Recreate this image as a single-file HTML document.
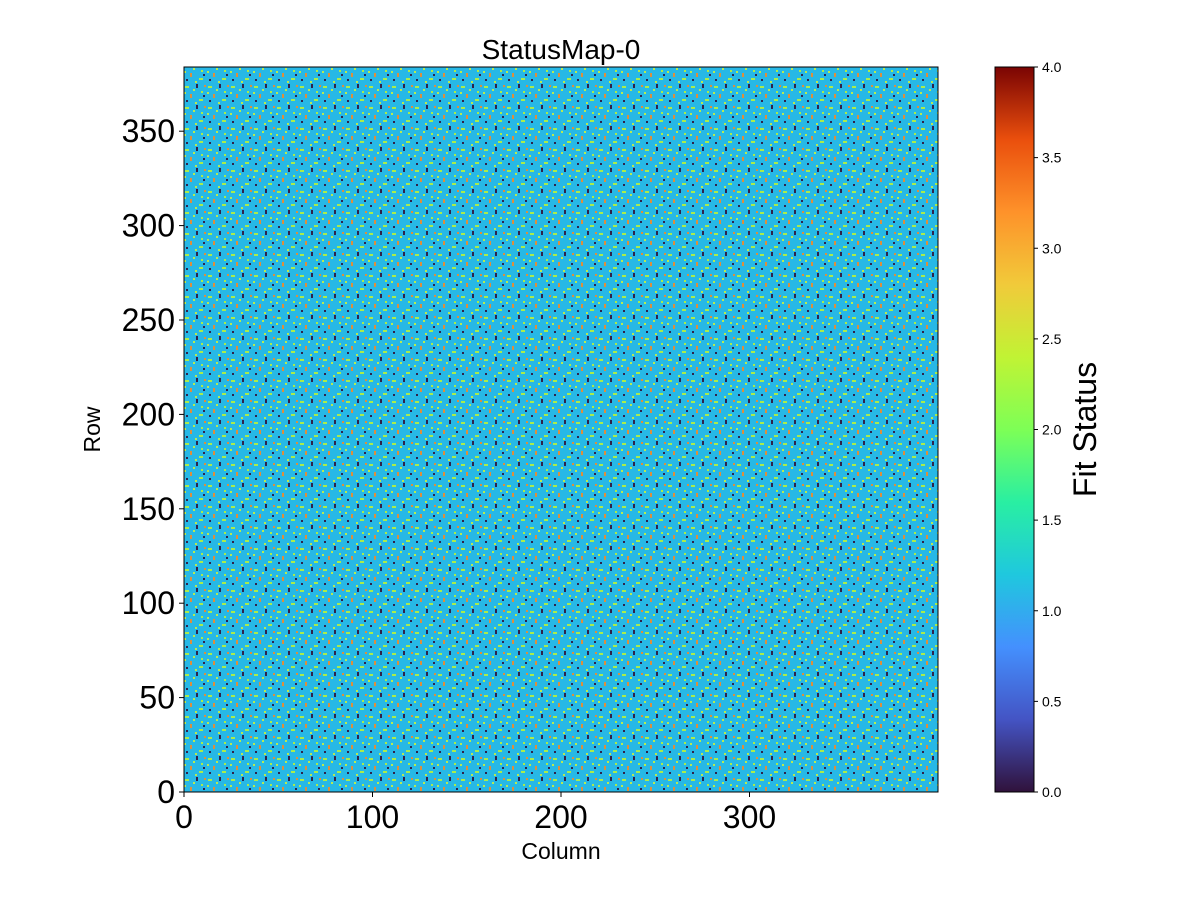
<!DOCTYPE html>
<html><head><meta charset="utf-8">
<style>
html,body{margin:0;padding:0;background:#fff;}
svg text{font-family:"Liberation Sans","DejaVu Sans",sans-serif;fill:#000;}
</style></head>
<body>
<svg id="chart" width="1200" height="900" xmlns="http://www.w3.org/2000/svg">
<defs>
<linearGradient id="turbo" x1="0" y1="1" x2="0" y2="0">
<stop offset="0" stop-color="#30123b"/><stop offset="0.1" stop-color="#4454c4"/>
<stop offset="0.2" stop-color="#4490fe"/><stop offset="0.3" stop-color="#1fc8de"/>
<stop offset="0.4" stop-color="#29efa2"/><stop offset="0.5" stop-color="#7dff56"/>
<stop offset="0.6" stop-color="#c1f334"/><stop offset="0.7" stop-color="#f1ca3a"/>
<stop offset="0.8" stop-color="#fe922a"/><stop offset="0.9" stop-color="#ea4f0d"/>
<stop offset="1" stop-color="#7a0403"/>
</linearGradient>
<pattern id="speckle" width="23" height="21" patternUnits="userSpaceOnUse">
<rect x="1" y="2" width="4" height="2" fill="#b8f23a"/>
<rect x="12" y="0" width="2" height="4" fill="#30123b"/>
<rect x="17" y="7" width="2" height="2" fill="#b8f23a"/>
<rect x="6" y="10" width="2" height="4" fill="#f08a2a"/>
<rect x="15" y="15" width="4" height="2" fill="#b8f23a"/>
<rect x="2" y="16" width="2" height="2" fill="#30123b"/>
<rect x="9" y="5" width="2" height="2" fill="#c8f040"/>
<rect x="20" y="1" width="2" height="2" fill="#f08a2a"/>
<rect x="11" y="18" width="2" height="2" fill="#c8f040"/>
<rect x="19" y="11" width="2" height="2" fill="#30123b"/>
<rect x="0" y="8" width="2" height="2" fill="#c8f040"/>
</pattern>
</defs>
<g id="plot"></g>
</svg>
<script>
const xTicks=[0,100,200,300];
const yTicks=[0,50,100,150,200,250,300,350];
const cbTicks=[0,0.5,1,1.5,2,2.5,3,3.5,4];
const cbTickLabels=["0.0","0.5","1.0","1.5","2.0","2.5","3.0","3.5","4.0"];
const statusValues=[1];
const nCols=400, nRows=384;
const L=184,R=938,T=67,B=792, CL=995,CR=1034;
const xs=v=>L+(v/nCols)*(R-L);
const ys=v=>B-(v/nRows)*(B-T);
const cs=v=>B-(v/4)*(B-T);
const NS="http://www.w3.org/2000/svg";
const g=document.getElementById('plot');
function mk(tag,attrs,parent){const e=document.createElementNS(NS,tag);for(const k in attrs)e.setAttribute(k,attrs[k]);(parent||g).appendChild(e);return e;}
const turboStops=["#30123b","#4454c4","#4490fe","#1fc8de","#29efa2","#7dff56","#c1f334","#f1ca3a","#fe922a","#ea4f0d","#7a0403"];
function colorOf(v){const t=v/4;return t<=0.25?"#27b8e6":turboStops[Math.round(t*10)];}
statusValues.forEach(v=>{
 const r=mk('rect',{x:xs(0),y:ys(nRows),width:xs(nCols)-xs(0),height:ys(0)-ys(nRows),fill:colorOf(v)});
 
 
});
const sp=mk('rect',{x:L,y:T,width:R-L,height:B-T,fill:'url(#speckle)',opacity:0.9});


const fr=mk('rect',{x:L,y:T,width:R-L,height:B-T,fill:'none',stroke:'#000','stroke-width':1});


xTicks.forEach(v=>{
 const x=xs(v);
 mk('line',{x1:x,y1:B,x2:x,y2:B+5,stroke:'#000'});
 const t=mk('text',{x:x,y:B+36,'text-anchor':'middle','font-size':32});t.textContent=v;
 
 
});
yTicks.forEach(v=>{
 const y=ys(v);
 mk('line',{x1:L-5,y1:y,x2:L,y2:y,stroke:'#000'});
 const t=mk('text',{x:L-9,y:y+11,'text-anchor':'end','font-size':32});t.textContent=v;
 
 
});
const cb=mk('rect',{x:CL,y:T,width:CR-CL,height:B-T,fill:'url(#turbo)',stroke:'#000','stroke-width':1});


cbTicks.forEach((v,i)=>{
 const y=cs(v);
 mk('line',{x1:CR,y1:y,x2:CR+4,y2:y,stroke:'#000'});
 const t=mk('text',{x:CR+8,y:y+5,'font-size':14});t.textContent=cbTickLabels[i];
 
 
});
let t=mk('text',{x:(L+R)/2,y:59,'text-anchor':'middle','font-size':28});t.textContent='StatusMap-0';


t=mk('text',{x:(L+R)/2,y:859,'text-anchor':'middle','font-size':23});t.textContent='Column';


t=mk('text',{x:0,y:0,'text-anchor':'middle','font-size':23,transform:`translate(100,${(T+B)/2}) rotate(-90)`});t.textContent='Row';


t=mk('text',{x:0,y:0,'text-anchor':'middle','font-size':32,transform:`translate(1096,${(T+B)/2}) rotate(-90)`});t.textContent='Fit Status';


</script>
</body></html>
